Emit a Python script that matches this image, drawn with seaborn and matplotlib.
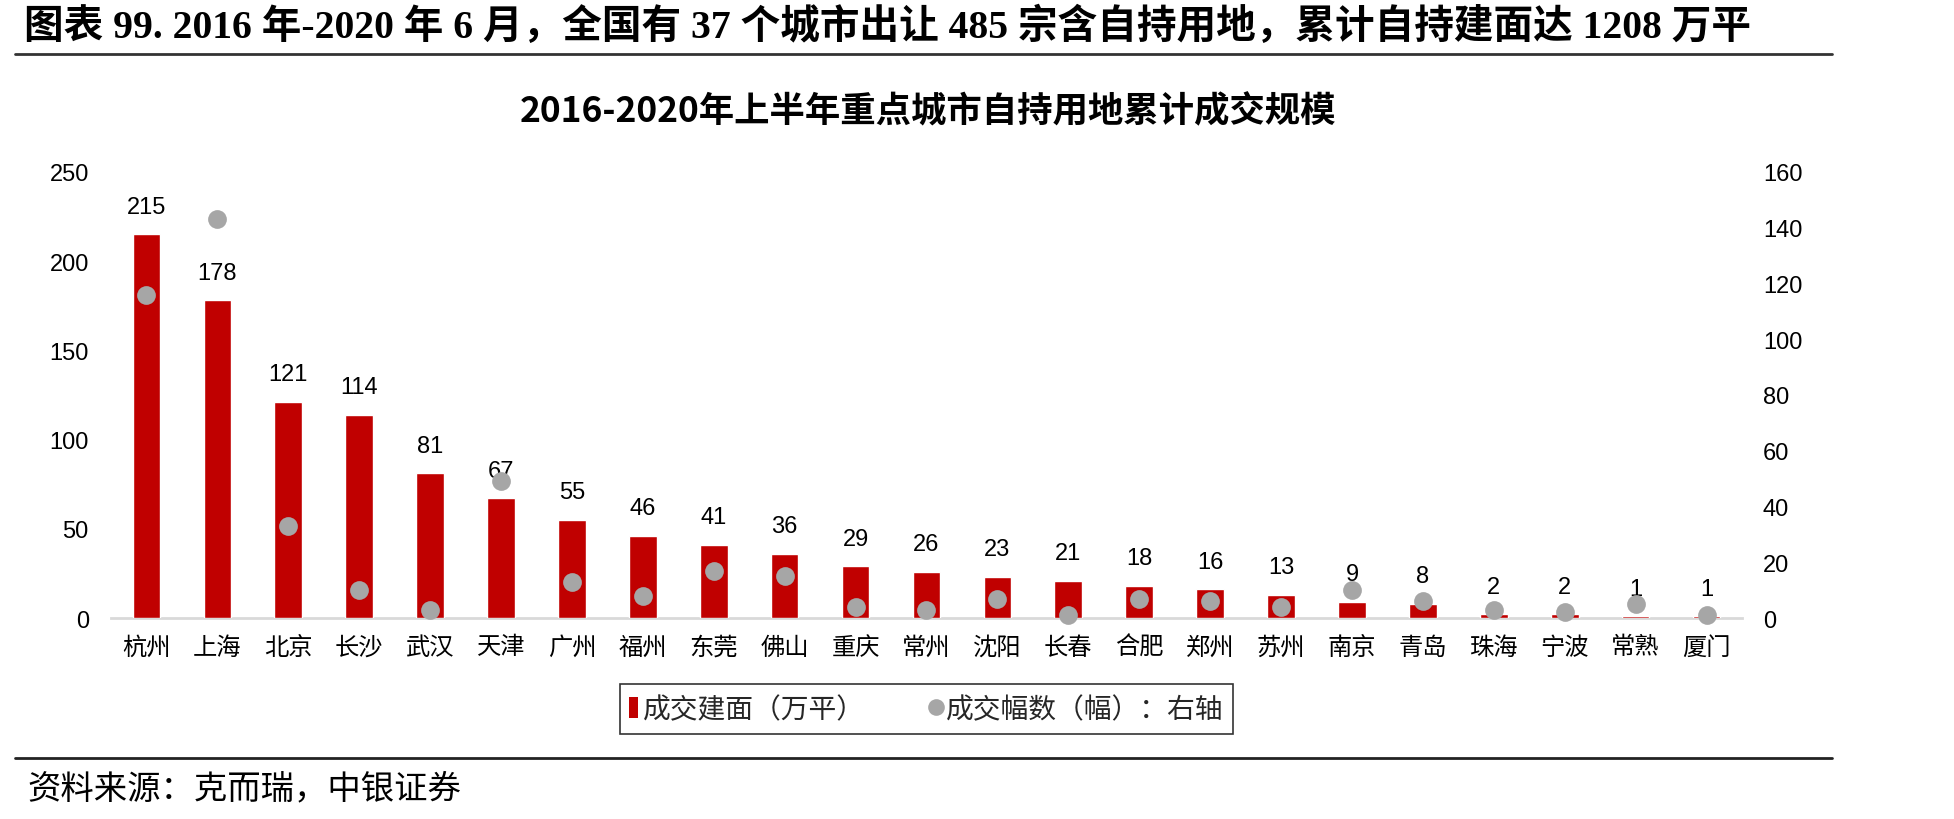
import numpy as np
import pandas as pd
import matplotlib
matplotlib.use("Agg")
import matplotlib.pyplot as plt
import seaborn as sns
from matplotlib.lines import Line2D
from matplotlib.patches import Patch

cities = ["杭州", "上海", "北京", "长沙", "武汉", "天津", "广州", "福州", "东莞", "佛山", "重庆",
          "常州", "沈阳", "长春", "合肥", "郑州", "苏州", "南京", "青岛", "珠海", "宁波", "常熟", "厦门"]
area = [215, 178, 121, 114, 81, 67, 55, 46, 41, 36, 29, 26, 23, 21, 18, 16, 13, 9, 8, 2, 2, 1, 1]
parcels = [116, 143, 33, 10, 3, 49, 13, 8, 17, 15, 4, 3, 7, 1, 7, 6, 4, 10, 6, 3, 2, 5, 1]
left_ticks = [0, 50, 100, 150, 200, 250]
right_ticks = [0, 20, 40, 60, 80, 100, 120, 140, 160]

main_title = "图表 99. 2016 年-2020 年 6 月，全国有 37 个城市出让 485 宗含自持用地，累计自持建面达 1208 万平"
chart_title = "2016-2020年上半年重点城市自持用地累计成交规模"
legend_labels = ["成交建面（万平）", "成交幅数（幅）：右轴"]
source = "资料来源：克而瑞，中银证券"

sns.set_theme(style="white")
plt.rcParams['font.family'] = ['Liberation Sans', 'Noto Sans CJK SC', 'DejaVu Sans']
plt.rcParams['axes.unicode_minus'] = False

df = pd.DataFrame({"city": cities, "area": area, "parcels": parcels})

fig = plt.figure(figsize=(19.54, 8.2), dpi=100)
ax = fig.add_axes([0.0568, 0.2451, 0.8347, 0.544])

sns.barplot(data=df, x="city", y="area", color="#C00000", saturation=1, width=0.39,
            ax=ax, errorbar=None, order=cities)
for c in ax.containers:
    ax.bar_label(c, labels=[str(v) for v in area], padding=12, fontsize=17,
                 family=['Liberation Sans', 'Noto Sans CJK SC'], color="black")

ax2 = ax.twinx()
sns.pointplot(data=df, x="city", y="parcels", order=cities, color="#A6A6A6", linestyle="none",
              marker="o", markersize=13.5, errorbar=None, ax=ax2)
for ln in ax2.lines:
    ln.set_clip_on(False)
    ln.set_markeredgewidth(0)
    ln.set_zorder(5)
for coll in ax2.collections:
    coll.set_clip_on(False)

for a in (ax, ax2):
    a.set_xlim(-0.5, len(cities) - 0.5)
    for s in a.spines.values():
        s.set_visible(False)
    a.set_xlabel("")
    a.set_ylabel("")
    a.grid(False)

ax.set_ylim(0, 250)
ax.set_yticks(left_ticks)
ax.set_yticklabels([str(t) for t in left_ticks])
ax2.set_ylim(0, 160)
ax2.set_yticks(right_ticks)
ax2.set_yticklabels([str(t) for t in right_ticks])

ax.spines["bottom"].set_visible(True)
ax.spines["bottom"].set_color("#D9D9D9")
ax.spines["bottom"].set_linewidth(2)
ax.spines["bottom"].set_zorder(0.5)

ax.tick_params(axis="y", length=0, pad=16, labelsize=17, labelcolor="black")
ax2.tick_params(axis="y", length=0, pad=15, labelsize=17, labelcolor="black")
ax.tick_params(axis="x", length=0, pad=13, labelsize=17.5, labelcolor="black")
ax.set_xticks(range(len(cities)))
ax.set_xticklabels(cities)
ax2.tick_params(axis="x", length=0, labelbottom=False)

# Titles
fig.text(0.0125, 0.967, main_title, fontsize=28.5, fontweight="bold", va="center", ha="left",
         family=['Liberation Serif', 'Noto Sans CJK SC'], color="black")
fig.add_artist(Line2D([0.0077, 0.9376], [0.933, 0.933], color="#333333", lw=2))
fig.text(0.475, 0.8634, chart_title, fontsize=25.5, fontweight="bold", va="center", ha="center",
         family=['Noto Sans CJK SC', 'DejaVu Sans'], color="black")

# Legend
handles = [Patch(facecolor="#C00000", edgecolor="none"),
           Line2D([], [], marker="o", linestyle="none", color="#A6A6A6", markersize=12,
                  markeredgewidth=0)]
leg = fig.legend(handles, legend_labels, loc="center", bbox_to_anchor=(0.474, 0.134), ncol=2,
                 frameon=True, fancybox=False, edgecolor="black",
                 handlelength=0.3, handleheight=0.8, handletextpad=0.2, columnspacing=2.4,
                 borderpad=0.35, borderaxespad=0,
                 prop={'family': ['Noto Sans CJK SC', 'DejaVu Sans'], 'size': 20})
leg.get_frame().set_linewidth(1.2)

fig.add_artist(Line2D([0.0077, 0.9376], [0.0744, 0.0744], color="#222222", lw=2))
fig.text(0.014, 0.0378, source, fontsize=24, style="italic", va="center", ha="left",
         family=['Noto Sans CJK SC', 'DejaVu Sans'], color="black")

fig.savefig("out.png", dpi=100, facecolor="white")
